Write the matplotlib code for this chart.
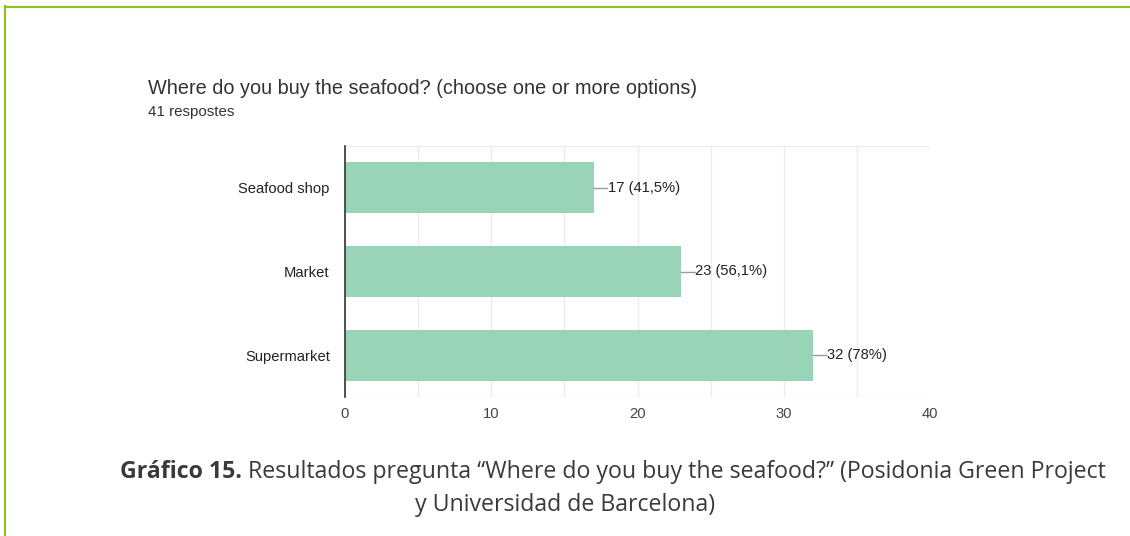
import matplotlib.pyplot as plt
from matplotlib.lines import Line2D

categories = ["Seafood shop", "Market", "Supermarket"]
counts = [17, 23, 32]
percent_labels = ["41,5%", "56,1%", "78%"]
x_ticks = [0, 10, 20, 30, 40]

title = "Where do you buy the seafood? (choose one or more options)"
subtitle = "41 respostes"
caption_bold = "Gráfico 15."
caption_rest = " Resultados pregunta \u201cWhere do you buy the seafood?\u201d (Posidonia Green Project"
caption_line2 = "y Universidad de Barcelona)"

W, H = 1130, 536
fig = plt.figure(figsize=(W / 100, H / 100), dpi=100)
plt.rcParams['font.family'] = ['Liberation Sans', 'DejaVu Sans']

# axes box in pixels: x 345..930, y 146..397 (from top)
ax = fig.add_axes([345 / W, 1 - 397 / H, (930 - 345) / W, (397 - 146) / H])
ypos = list(range(len(categories)))
ax.barh(ypos, counts, height=0.61, color="#9ad4b8", zorder=2)
ax.set_ylim(len(categories) - 0.5, -0.5)
ax.set_xlim(0, 40)
ax.set_yticks(ypos)
ax.set_yticklabels(categories, fontsize=10.6, color="#222222")
ax.set_xticks(x_ticks)
ax.set_xticklabels([str(t) for t in x_ticks], fontsize=10.6, color="#444444")
ax.set_xticks(range(0, 41, 5), minor=True)
ax.tick_params(axis="both", which="both", length=0)
ax.tick_params(axis="y", pad=11)
ax.tick_params(axis="x", pad=7)
ax.grid(axis="x", which="both", color="#ebebeb", linewidth=1, zorder=0)
for s in ["top", "right", "bottom"]:
    ax.spines[s].set_visible(False)
ax.spines["left"].set_color("#333333")
ax.spines["left"].set_linewidth(1.2)
ax.spines["left"].set_zorder(3)
ax.axhline(-0.5, color="#ebebeb", linewidth=1, zorder=0)
ax.axhline(len(categories) - 0.5, color="#ebebeb", linewidth=1, zorder=0)

for i, (v, p) in enumerate(zip(counts, percent_labels)):
    ax.plot([v, v + 0.9], [i, i], color="#999999", linewidth=1, zorder=3, clip_on=False)
    ax.text(v + 0.95, i, f"{v} ({p})", va="center", ha="left", fontsize=10.6, color="#222222")

fig.text(148 / W, 1 - 88 / H, title, fontsize=14.3, color="#333333", va="center", ha="left")
fig.text(148 / W, 1 - 112 / H, subtitle, fontsize=10.9, color="#333333", va="center", ha="left")

# caption under the chart
cap = fig.text(120 / W, 1 - 472 / H, caption_bold, fontsize=16.7, fontweight="bold",
               color="#3a3a3a", va="center", ha="left", family="Open Sans")
fig.canvas.draw()
bb = cap.get_window_extent()
fig.text(bb.x1 / W, 1 - 472 / H, caption_rest, fontsize=16.7, color="#3a3a3a",
         va="center", ha="left", family="Open Sans")
fig.text(565 / W, 1 - 505 / H, caption_line2, fontsize=16.7, color="#3a3a3a",
         va="center", ha="center", family="Open Sans")

# green frame lines
green = "#8cc21e"
fig.add_artist(Line2D([4.5 / W, 4.5 / W], [0, 1 - 6 / H], color=green, linewidth=1.5))
fig.add_artist(Line2D([4.5 / W, 1], [1 - 6.5 / H, 1 - 6.5 / H], color=green, linewidth=1.5))

fig.savefig("out.png", dpi=100)
